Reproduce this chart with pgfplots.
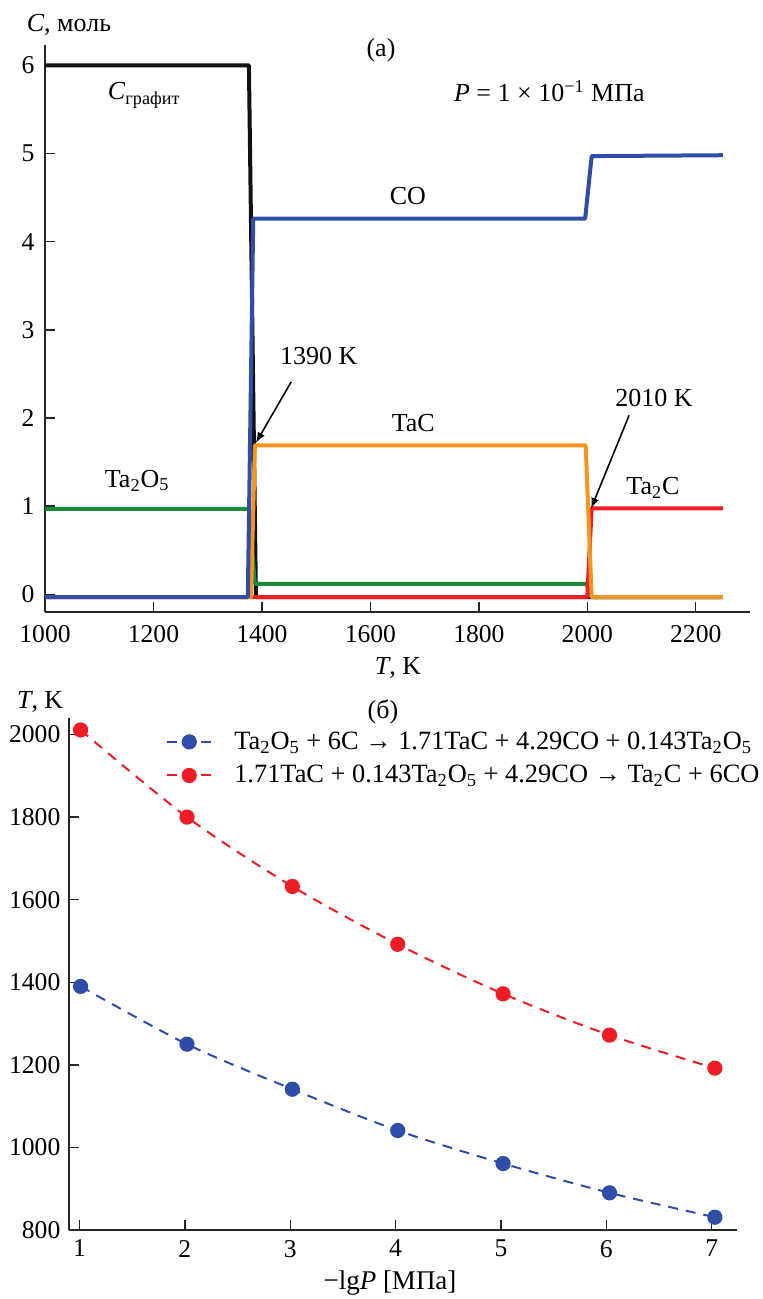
\documentclass[border=0pt]{standalone}
\usepackage{pgfplots}
\pgfplotsset{compat=1.18}
\usepackage{fontspec}
\setmainfont{Liberation Serif}
\definecolor{cblue}{HTML}{2F4FA6}
\definecolor{corange}{HTML}{F5951F}
\definecolor{cgreen}{HTML}{1B8A3B}
\definecolor{cred}{HTML}{EC1F27}
\definecolor{cblack}{HTML}{111111}
\definecolor{mblue}{HTML}{2E4DA7}
\definecolor{mred}{HTML}{EE1C25}
\begin{document}
\begin{tikzpicture}[font=\fontsize{13pt}{15.6pt}\selectfont]
\useasboundingbox (0,0) rectangle (381pt,-649.5pt);
\pgfplotsset{
  myaxis/.style={
    scale only axis,
    axis x line*=bottom, axis y line*=left,
    axis line style={line width=0.9pt, color=black!85, -},
    tick align=inside,
    major tick length=5pt,
    tick style={line width=0.7pt, color=black!85},
    ticklabel style={font=\fontsize{12.8pt}{15pt}\selectfont},
  }
}
% ---------- top panel ----------
\begin{axis}[myaxis,
  at={(22.5pt,-306pt)}, anchor=south west,
  width=352.5pt, height=283.5pt,
  xmin=1000, xmax=2300, ymin=-0.2, ymax=6.23,
  xtick={1000,1200,1400,1600,1800,2000,2200},
  xticklabels={1000,1200,1400,1600,1800,2000,2200},
  ytick={0,1,2,3,4,5,6},
  yticklabels={0,1,2,3,4,5,6},
  xticklabel style={yshift=-3pt},
  yticklabel style={xshift=-1.8pt},
  every axis plot/.append style={line width=2pt, line join=round},
]
\addplot[cblack] coordinates {(1000,6.0) (1376,6.0) (1389,-0.03) (2250,-0.03)};
\addplot[cgreen] coordinates {(1000,0.97) (1376,0.97) (1387,0.12) (1998,0.12) (2008,-0.03) (2250,-0.03)};
\addplot[cred] coordinates {(1000,-0.03) (2000,-0.03) (2008,0.975) (2250,0.975)};
\addplot[corange] coordinates {(1000,-0.03) (1380,-0.03) (1387,1.69) (1997,1.69) (2008,-0.03) (2250,-0.03)};
\addplot[cblue] coordinates {(1000,-0.03) (1374,-0.03) (1384,4.26) (1996,4.26) (2008,4.97) (2250,4.98)};
\node at (axis cs:1183,5.66) {\textit{C}\textsubscript{графит}};
\node at (axis cs:1930,5.71) {\textit{P} = 1 × 10\textsuperscript{−1} МПа};
\node at (axis cs:1669,4.52) {CO};
\node at (axis cs:1505,2.70) {1390 K};
\node at (axis cs:1679,1.94) {TaC};
\node at (axis cs:2123,2.23) {2010 K};
\node at (axis cs:2121,1.21) {Ta\textsubscript{2}C};
\node at (axis cs:1170,1.29) {Ta\textsubscript{2}O\textsubscript{5}};
\draw[-latex, line width=0.8pt] (axis cs:1454,2.41) -- (axis cs:1389,1.72);
\draw[-latex, line width=0.8pt] (axis cs:2077,2.03) -- (axis cs:2007,0.975);
\end{axis}
\node at (34.5pt,-12.5pt) {\textit{C}, моль};
\node at (190.5pt,-25pt) {(а)};
\node at (199pt,-334pt) {\textit{T}, K};
% ---------- bottom panel ----------
\begin{axis}[myaxis,
  at={(34.5pt,-615pt)}, anchor=south west,
  width=334pt, height=256pt,
  xmin=0.9, xmax=7.24, ymin=800, ymax=2040,
  xtick={1,2,3,4,5,6,7}, xticklabels={1,2,3,4,5,6,7},
  ytick={800,1000,1200,1400,1600,1800,2000},
  yticklabels={800,1000,1200,1400,1600,1800,2000},
  xticklabel style={yshift=-1.5pt},
  yticklabel style={xshift=-0.8pt},
  legend style={draw=none, fill=none, at={(0.145,0.982)}, anchor=north west,
    font=\fontsize{13.2pt}{15.8pt}\selectfont,
    inner xsep=0pt, inner ysep=0pt,
    /tikz/every odd column/.append style={column sep=9pt},
    /tikz/row sep=2.5pt},
  legend cell align=left,
  legend image code/.code={
    \draw[#1, solid, mark=none] (0pt,0pt) -- (5pt,0pt);
    \draw[#1, solid, mark=none] (17pt,0pt) -- (22pt,0pt);
    \draw[#1, only marks] plot coordinates {(11pt,0pt)};
  },
]
\addplot[mblue, dashed, dash pattern=on 5pt off 4pt, line width=1pt, smooth,
  mark=*, mark size=3.3pt, mark options={solid, fill=mblue, draw=mblue}]
  coordinates {(1.01,1390) (2.02,1250) (3.02,1141) (4.02,1041) (5.02,961) (6.03,890) (7.03,831)};
\addlegendentry{Ta\textsubscript{2}O\textsubscript{5} + 6C → 1.71TaC + 4.29CO + 0.143Ta\textsubscript{2}O\textsubscript{5}}
\addplot[mred, dashed, dash pattern=on 5pt off 4pt, line width=1pt, smooth,
  mark=*, mark size=3.3pt, mark options={solid, fill=mred, draw=mred}]
  coordinates {(1.01,2011) (2.02,1800) (3.02,1632) (4.02,1492) (5.02,1372) (6.03,1272) (7.03,1192)};
\addlegendentry{1.71TaC + 0.143Ta\textsubscript{2}O\textsubscript{5} + 4.29CO → Ta\textsubscript{2}C + 6CO}
\end{axis}
\node[anchor=west] at (5pt,-351pt) {\textit{T}, K};
\node at (191.5pt,-356pt) {(б)};
\node at (195pt,-641.5pt) {\fontsize{13.5pt}{16pt}\selectfont −lg\textit{P} [МПа]};
\end{tikzpicture}
\end{document}
